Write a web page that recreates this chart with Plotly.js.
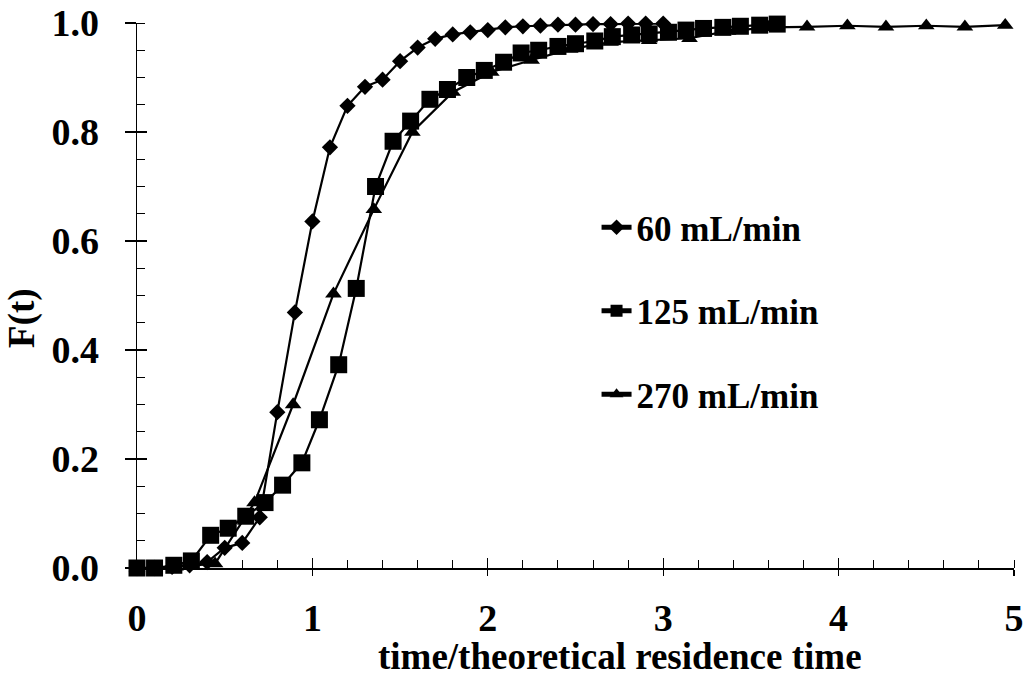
<!DOCTYPE html>
<html>
<head>
<meta charset="utf-8">
<script src="https://cdn.plot.ly/plotly-3.0.1.min.js"></script>
<style>html,body{margin:0;padding:0;background:#fff;}#chart{width:1026px;height:681px;}</style>
</head>
<body>
<div id="chart"></div>
<script>
// 60 mL/min (diamonds)
var x60 = [0, 0.1, 0.2, 0.3, 0.4, 0.5, 0.6, 0.7, 0.8, 0.9, 1.0, 1.1, 1.2, 1.3, 1.4, 1.5, 1.6, 1.7, 1.8, 1.9, 2.0, 2.1, 2.2, 2.3, 2.4, 2.5, 2.6, 2.7, 2.8, 2.9, 3.0];
var y60 = [0, 0, 0.002, 0.005, 0.011, 0.037, 0.046, 0.093, 0.286, 0.469, 0.636, 0.772, 0.848, 0.883, 0.896, 0.930, 0.955, 0.971, 0.979, 0.983, 0.987, 0.992, 0.994, 0.995, 0.997, 0.997, 0.998, 0.998, 0.999, 0.999, 0.999];
// 125 mL/min (squares)
var x125 = [0, 0.10, 0.21, 0.31, 0.42, 0.52, 0.62, 0.73, 0.83, 0.94, 1.04, 1.15, 1.25, 1.36, 1.46, 1.56, 1.67, 1.77, 1.88, 1.98, 2.09, 2.19, 2.29, 2.40, 2.50, 2.61, 2.71, 2.82, 2.92, 3.03, 3.13, 3.23, 3.34, 3.44, 3.55, 3.65];
var y125 = [0, 0, 0.005, 0.013, 0.060, 0.073, 0.095, 0.120, 0.152, 0.193, 0.272, 0.373, 0.513, 0.700, 0.783, 0.820, 0.860, 0.878, 0.900, 0.913, 0.928, 0.945, 0.950, 0.957, 0.962, 0.967, 0.975, 0.978, 0.980, 0.983, 0.987, 0.990, 0.992, 0.994, 0.996, 0.998];
// 270 mL/min (triangles)
var x270 = [0, 0.22, 0.445, 0.67, 0.89, 1.12, 1.35, 1.57, 1.80, 2.02, 2.25, 2.47, 2.70, 2.92, 3.15, 3.37, 3.60, 3.82, 4.05, 4.27, 4.50, 4.72, 4.95];
var y270 = [0, 0.002, 0.008, 0.120, 0.300, 0.503, 0.658, 0.800, 0.873, 0.910, 0.932, 0.952, 0.965, 0.968, 0.972, 0.985, 0.992, 0.993, 0.995, 0.993, 0.995, 0.993, 0.996];
var names = ["60 mL/min", "125 mL/min", "270 mL/min"];
var xTicks = [0, 1, 2, 3, 4, 5];
var yTicks = [0, 0.2, 0.4, 0.6, 0.8, 1.0];
var xTitle = "time/theoretical residence time";
var yTitle = "F(t)";

var FONT = "Liberation Serif, Times New Roman, serif";
function tr(x, y, name, sym, size, grp) {
  return {
    x: x, y: y, name: name, type: "scatter", mode: "lines+markers",
    line: {color: "#000", width: 2.2},
    marker: {symbol: sym, size: size, color: "#000"},
    cliponaxis: false, legendgroup: grp, xaxis: "x", yaxis: "y"
  };
}
var data = [
  tr(x60, y60, names[0], "diamond", 12.5, "a"),
  tr(x125, y125, names[1], "square", 17, "b"),
  tr(x270, y270, names[2], "triangle-up", 14.5, "c")
];
var tickFont = {family: FONT, size: 38, color: "#000", weight: "bold"};
var titleFont = {family: FONT, size: 37, color: "#000", weight: "bold"};
var layout = {
  width: 1026, height: 681,
  margin: {l: 137, r: 12, t: 23, b: 113},
  paper_bgcolor: "#fff", plot_bgcolor: "#fff",
  showlegend: true,
  legend: {
    x: 0.524, y: 0.679, xanchor: "left", yanchor: "top",
    font: {family: FONT, size: 35, color: "#000", weight: "bold"},
    tracegroupgap: 35, itemwidth: 30, bgcolor: "rgba(0,0,0,0)",
    itemsizing: "constant"
  },
  xaxis: {
    range: [0, 5], tickvals: xTicks, ticktext: xTicks.map(String),
    showgrid: false, zeroline: false, showline: true, linecolor: "#000", linewidth: 1.5,
    ticks: "outside", ticklen: 6, tickwidth: 1.2, tickcolor: "#000",
    ticklabelstandoff: 10, tickfont: tickFont,
    minor: {dtick: 0.2, ticks: "inside", ticklen: 8, tickwidth: 1, tickcolor: "#000", showgrid: false},
    fixedrange: true
  },
  yaxis: {
    range: [0, 1], tickvals: yTicks, ticktext: yTicks.map(function(v){return v.toFixed(1);}),
    showgrid: false, zeroline: false, showline: true, linecolor: "#000", linewidth: 1.5,
    ticks: "outside", ticklen: 11, tickwidth: 1.2, tickcolor: "#000",
    ticklabelstandoff: 18, tickfont: tickFont,
    minor: {dtick: 0.05, ticks: "inside", ticklen: 8, tickwidth: 1, tickcolor: "#000", showgrid: false},
    fixedrange: true
  },
  xaxis2: {
    range: [0, 5], overlaying: "x", tickvals: xTicks, showticklabels: false,
    showgrid: false, zeroline: false, showline: false,
    ticks: "inside", ticklen: 10, tickwidth: 1.2, tickcolor: "#000", side: "bottom", fixedrange: true
  },
  yaxis2: {
    range: [0, 1], overlaying: "y", tickvals: yTicks, showticklabels: false,
    showgrid: false, zeroline: false, showline: false,
    ticks: "inside", ticklen: 10, tickwidth: 1.2, tickcolor: "#000", side: "left", fixedrange: true
  },
  annotations: [
    {text: xTitle, xref: "paper", yref: "paper", x: 0.551, y: -0.163, xanchor: "center", yanchor: "middle", showarrow: false, font: titleFont},
    {text: yTitle, xref: "paper", yref: "paper", x: -0.131, y: 0.459, xanchor: "center", yanchor: "middle", textangle: -90, showarrow: false, font: titleFont}
  ]
};
// helper trace to activate overlay axes (no visible marks)
data.push({x: [null], y: [null], xaxis: "x2", yaxis: "y2", type: "scatter", mode: "markers", showlegend: false, hoverinfo: "skip"});
Plotly.newPlot("chart", data, layout, {displayModeBar: false, staticPlot: true});
</script>
</body>
</html>
